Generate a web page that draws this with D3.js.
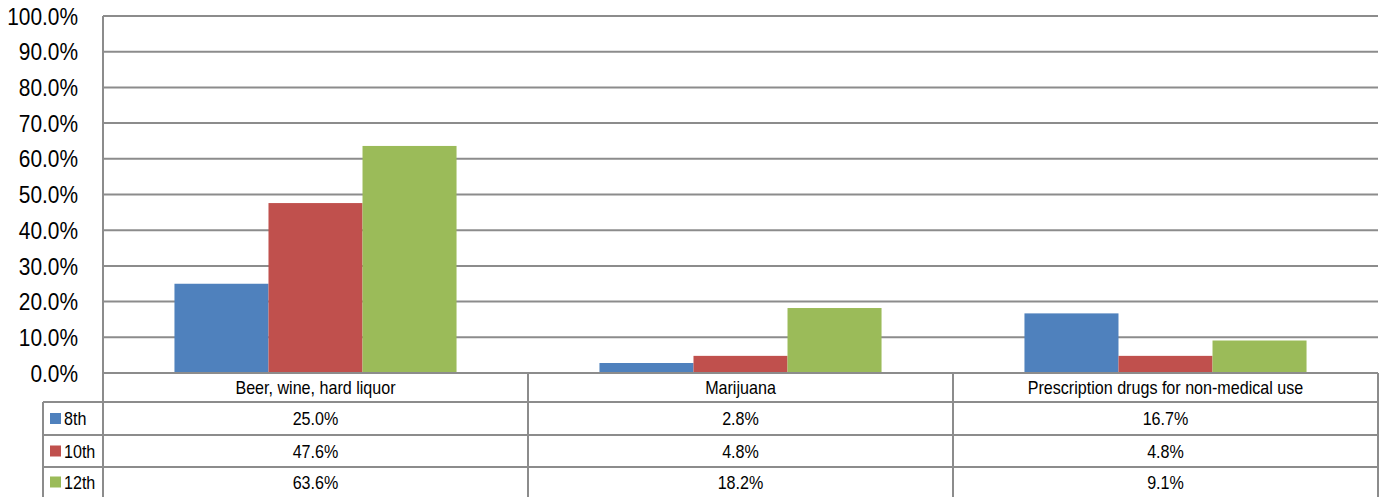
<!DOCTYPE html>
<html>
<head>
<meta charset="utf-8">
<script src="https://cdn.jsdelivr.net/npm/d3@7"></script>
<style>
  body { margin: 0; background: #fff; }
  text { font-family: "Liberation Sans", Arial, sans-serif; fill: #000; }
</style>
</head>
<body>
<script>
var categories = ["Beer, wine, hard liquor", "Marijuana", "Prescription drugs for non-medical use"];
var grades = ["8th", "10th", "12th"];
var values8 = [25.0, 2.8, 16.7];
var values10 = [47.6, 4.8, 4.8];
var values12 = [63.6, 18.2, 9.1];
var yTicks = [0, 10, 20, 30, 40, 50, 60, 70, 80, 90, 100];
var colors = ["#4F81BD", "#C0504D", "#9BBB59"];

var series = [values8, values10, values12];

var width = 1383, height = 497;
var plotLeft = 103, plotRight = 1378, plotTop = 16, plotBottom = 373;
var rowY = [373, 402, 435, 467, 497];
var legendLeft = 43;
var gridColor = "#8c8c8c";
var squeeze = 0.87; // text in the picture is horizontally condensed

var svg = d3.select("body").append("svg")
    .attr("width", width)
    .attr("height", height);

var x0 = d3.scaleBand().domain(categories).range([plotLeft, plotRight]).padding(0);
var x1 = d3.scaleBand().domain(grades).range([0, x0.bandwidth()]).paddingInner(0).paddingOuter(0.76);
var y = d3.scaleLinear().domain([0, 100]).range([plotBottom, plotTop]);

// gridlines
svg.append("g").selectAll("line").data(yTicks.filter(function(d){ return d > 0; }))
  .enter().append("line")
    .attr("x1", plotLeft).attr("x2", plotRight)
    .attr("y1", function(d){ return y(d); })
    .attr("y2", function(d){ return y(d); })
    .attr("stroke", gridColor).attr("stroke-width", 2);

function condense(sel) {
  sel.each(function() {
    var len = this.getComputedTextLength();
    d3.select(this).attr("textLength", len * squeeze).attr("lengthAdjust", "spacingAndGlyphs");
  });
}

// y tick labels
svg.append("g").selectAll("text").data(yTicks)
  .enter().append("text")
    .attr("x", 78)
    .attr("y", function(d){ return y(d); })
    .attr("dy", "0.36em")
    .attr("text-anchor", "end")
    .style("font-size", "24px")
    .text(function(d){ return d.toFixed(1) + "%"; })
    .call(condense);

// bars
grades.forEach(function(g, gi) {
  svg.append("g").selectAll("rect").data(series[gi])
    .enter().append("rect")
      .attr("x", function(d, i){ return x0(categories[i]) + x1(g); })
      .attr("width", x1.bandwidth())
      .attr("y", function(d){ return y(d); })
      .attr("height", function(d){ return y(0) - y(d); })
      .attr("fill", colors[gi]);
});

// table lines
var grid = svg.append("g").attr("stroke", gridColor).attr("stroke-width", 2);
grid.append("line").attr("x1", plotLeft).attr("x2", plotRight).attr("y1", rowY[0]).attr("y2", rowY[0]);
rowY.slice(1, 4).forEach(function(ry) {
  grid.append("line").attr("x1", legendLeft).attr("x2", plotRight).attr("y1", ry).attr("y2", ry);
});
grid.append("line").attr("x1", plotLeft).attr("x2", plotLeft).attr("y1", plotTop).attr("y2", height);
grid.append("line").attr("x1", legendLeft).attr("x2", legendLeft).attr("y1", rowY[1]).attr("y2", height);
categories.slice(1).forEach(function(c) {
  grid.append("line").attr("x1", x0(c)).attr("x2", x0(c)).attr("y1", rowY[0]).attr("y2", height);
});
grid.append("line").attr("x1", plotRight).attr("x2", plotRight).attr("y1", rowY[0]).attr("y2", height);

// header labels
svg.append("g").selectAll("text").data(categories)
  .enter().append("text")
    .attr("x", function(d){ return x0(d) + x0.bandwidth() / 2; })
    .attr("y", (rowY[0] + rowY[1]) / 2)
    .attr("dy", "0.36em")
    .attr("text-anchor", "middle")
    .style("font-size", "18.5px")
    .text(function(d){ return d; })
    .call(condense);

// data rows
grades.forEach(function(g, gi) {
  var cy = (rowY[gi + 1] + rowY[gi + 2]) / 2;
  svg.append("rect")
    .attr("x", 50).attr("y", cy - 5.5)
    .attr("width", 11).attr("height", 11)
    .attr("fill", colors[gi]);
  svg.append("text")
    .attr("x", 64).attr("y", cy).attr("dy", "0.36em")
    .style("font-size", "18.5px")
    .text(g)
    .call(condense);
  svg.append("g").selectAll("text").data(series[gi])
    .enter().append("text")
      .attr("x", function(d, i){ return x0(categories[i]) + x0.bandwidth() / 2; })
      .attr("y", cy).attr("dy", "0.36em")
      .attr("text-anchor", "middle")
      .style("font-size", "18.5px")
      .text(function(d){ return d.toFixed(1) + "%"; })
      .call(condense);
});
</script>
</body>
</html>
